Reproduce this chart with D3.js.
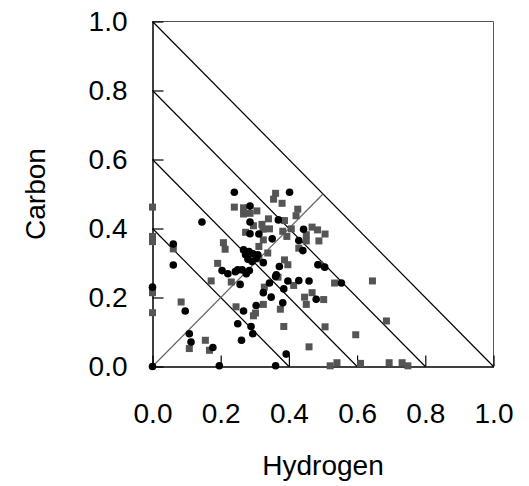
<!DOCTYPE html>
<html>
<head>
<meta charset="utf-8">
<script src="https://cdn.jsdelivr.net/npm/d3@7/dist/d3.min.js"></script>
<style>
  html, body { margin: 0; padding: 0; background: #fff; }
  svg { display: block; }
  text { font-family: "Liberation Sans", Arial, sans-serif; }
</style>
</head>
<body>
<svg id="chart" width="529" height="486"></svg>
<script>
// Tick labels
const xTicks = [0, 0.2, 0.4, 0.6, 0.8, 1.0];
const yTicks = [0, 0.2, 0.4, 0.6, 0.8, 1.0];
// Diagonal reference lines: x + y = c
const diagonals = [0.4, 0.6, 0.8, 1.0];
// Series 1: black circles [hydrogen, carbon]
const blackH = [0.240,0.145,0.061,0.061,0.204,0.221,0.243,0.402,0.286,0.286,0.369,0.286,0.312,0.443,0.429,0.351,0.441,0.267,0.283,0.273,0.294,0.309,0.325,0.280,0.292,0.304,0.372,0.485,0.505,0.250,0.263,0.284,0.363,0.275,0.257,0.361,0.397,0.429,0.459,0.343,0.385,0.325,0.348,0.480,0.382,0.304,0.267,0.250,0.289,0.294,0.261,0.392,0.361,0.000,0.096,0.108,0.113,0.177,0.000,0.196,0.554];
const blackC = [0.505,0.419,0.355,0.294,0.278,0.269,0.275,0.505,0.465,0.419,0.425,0.385,0.384,0.398,0.365,0.370,0.336,0.338,0.333,0.324,0.327,0.324,0.301,0.311,0.304,0.314,0.290,0.295,0.288,0.280,0.280,0.278,0.266,0.269,0.238,0.261,0.248,0.249,0.248,0.242,0.225,0.214,0.201,0.195,0.185,0.177,0.161,0.124,0.116,0.095,0.076,0.036,0.002,0.230,0.161,0.095,0.071,0.055,0.000,0.002,0.242];
// Series 2: grey squares [hydrogen, carbon]
const greyH = [0.240,0.000,0.000,0.000,0.061,0.208,0.213,0.191,0.361,0.355,0.380,0.267,0.267,0.286,0.306,0.426,0.421,0.296,0.321,0.340,0.387,0.324,0.343,0.273,0.382,0.407,0.394,0.468,0.484,0.506,0.451,0.451,0.488,0.325,0.312,0.429,0.338,0.312,0.387,0.397,0.490,0.368,0.414,0.328,0.468,0.446,0.502,0.451,0.325,0.375,0.302,0.296,0.245,0.385,0.506,0.459,0.000,0.000,0.172,0.084,0.108,0.155,0.167,0.231,0.534,0.645,0.686,0.596,0.521,0.541,0.610,0.694,0.732,0.749];
const greyC = [0.462,0.462,0.377,0.362,0.341,0.359,0.340,0.299,0.502,0.485,0.473,0.460,0.442,0.444,0.451,0.456,0.437,0.408,0.412,0.428,0.423,0.398,0.399,0.389,0.392,0.399,0.377,0.404,0.396,0.384,0.382,0.364,0.364,0.367,0.348,0.343,0.329,0.312,0.309,0.295,0.295,0.259,0.235,0.230,0.214,0.201,0.194,0.180,0.180,0.166,0.155,0.147,0.173,0.116,0.115,0.057,0.214,0.156,0.248,0.187,0.052,0.076,0.047,0.245,0.242,0.248,0.132,0.092,0.002,0.011,0.009,0.011,0.011,0.002];

const svg = d3.select("#chart");
const mLeft = 152.5, mRight = 493.5, mTop = 21.5, mBottom = 366.5;
const x = d3.scaleLinear().domain([0, 1]).range([mLeft, mRight]);
const y = d3.scaleLinear().domain([0, 1]).range([mBottom, mTop]);
const fmt = d3.format(".1f");
const fontSize = 28;

// Frame (top & right grey)
svg.append("line").attr("x1", x(0)).attr("x2", x(1)).attr("y1", y(1)).attr("y2", y(1))
  .attr("stroke", "#555").attr("stroke-width", 1);
svg.append("line").attr("x1", x(1)).attr("x2", x(1)).attr("y1", y(0)).attr("y2", y(1))
  .attr("stroke", "#555").attr("stroke-width", 1);

// Diagonals
svg.append("g").selectAll("line").data(diagonals).join("line")
  .attr("x1", x(0)).attr("y1", d => y(d))
  .attr("x2", d => x(d)).attr("y2", y(0))
  .attr("stroke", "#000").attr("stroke-width", 1.2);

// y = x line to 0.5
svg.append("line").attr("x1", x(0)).attr("y1", y(0)).attr("x2", x(0.5)).attr("y2", y(0.5))
  .attr("stroke", "#666").attr("stroke-width", 1.2);

// Axes
const yAxis = d3.axisLeft(y).tickValues(yTicks).tickFormat(fmt)
  .tickSizeInner(-11).tickSizeOuter(0).tickPadding(25);
const xAxis = d3.axisBottom(x).tickValues(xTicks).tickFormat(fmt)
  .tickSizeInner(-11).tickSizeOuter(0).tickPadding(37);

const gy = svg.append("g").attr("transform", `translate(${mLeft},0)`).call(yAxis);
const gx = svg.append("g").attr("transform", `translate(0,${mBottom})`).call(xAxis);
[gy, gx].forEach(g => {
  g.select(".domain").attr("stroke", "#000").attr("stroke-width", 1.5);
  g.selectAll(".tick line").attr("stroke", "#000").attr("stroke-width", 1.2);
  g.selectAll(".tick text").attr("fill", "#000").style("font-size", fontSize + "px")
    .style("font-family", '"Liberation Sans", Arial, sans-serif');
});

// Points: grey squares
const sq = 7;
svg.append("g").selectAll("rect").data(greyH.map((h, i) => [h, greyC[i]])).join("rect")
  .attr("x", d => x(d[0]) - sq / 2).attr("y", d => y(d[1]) - sq / 2)
  .attr("width", sq).attr("height", sq).attr("fill", "#555");

// Points: black circles
svg.append("g").selectAll("circle").data(blackH.map((h, i) => [h, blackC[i]])).join("circle")
  .attr("cx", d => x(d[0])).attr("cy", d => y(d[1])).attr("r", 3.8).attr("fill", "#000");

// Axis titles
svg.append("text").attr("x", (mLeft + mRight) / 2).attr("y", 475)
  .attr("text-anchor", "middle").style("font-size", fontSize + "px").text("Hydrogen");
svg.append("text").attr("transform", `translate(45,${(mTop + mBottom) / 2}) rotate(-90)`)
  .attr("text-anchor", "middle").style("font-size", fontSize + "px").text("Carbon");
</script>
</body>
</html>
